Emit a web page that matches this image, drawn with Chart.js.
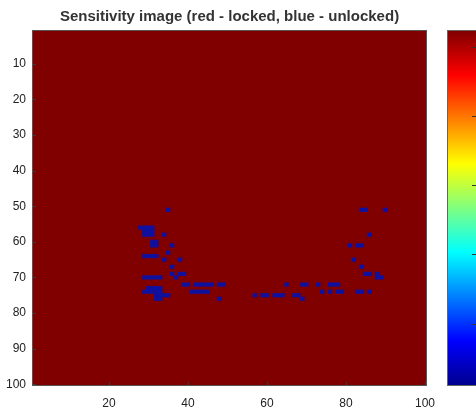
<!DOCTYPE html>
<html><head><meta charset="utf-8">
<script src="https://cdn.jsdelivr.net/npm/chart.js@4.4.1/dist/chart.umd.min.js"></script>
<style>
html,body{margin:0;padding:0;background:#fff;overflow:hidden;}
#wrap{position:relative;width:476px;height:411px;overflow:hidden;}
#c{position:absolute;left:0;top:0;}
#cbar{position:absolute;left:447px;top:30px;width:31px;height:356px;box-sizing:border-box;border:1px solid #666;
background:linear-gradient(to top,#00008f 0%,#0000ff 12.5%,#00ffff 37.5%,#ffff00 62.5%,#ff0000 87.5%,#800000 100%);}
.ct{position:absolute;right:1px;width:4px;height:1px;background:#333;}
</style></head><body>
<div id="wrap"><canvas id="c" width="476" height="411"></canvas><div id="cbar"></div></div>
<script>
const titleText = 'Sensitivity image (red - locked, blue - unlocked)';
const xTicks = [20, 40, 60, 80, 100];
const yTicks = [10, 20, 30, 40, 50, 60, 70, 80, 90, 100];
// blue (unlocked) runs: row, first column, last column
const segRow      = [51, 51, 51, 56, 57, 58, 58, 58, 60, 61, 61, 61, 61, 63, 64, 65, 65, 65, 67, 67, 69, 69, 69, 69, 70, 70, 70, 72, 72, 72, 72, 72, 72, 72, 73, 74, 74, 74, 74, 74, 74, 74, 75, 75, 75, 75, 75, 76, 76, 76];
const segColStart = [35, 84, 90, 28, 29, 29, 34, 86, 31, 31, 36, 81, 83, 35, 29, 34, 38, 82, 36, 84, 36, 38, 85, 88, 29, 37, 88, 39, 42, 48, 65, 69, 73, 76, 30, 29, 41, 74, 76, 78, 83, 86, 32, 57, 59, 62, 67, 32, 48, 69];
const segColEnd   = [35, 85, 90, 31, 31, 31, 34, 86, 32, 32, 36, 81, 84, 35, 32, 34, 38, 82, 36, 84, 36, 39, 86, 88, 33, 37, 89, 40, 46, 49, 65, 70, 73, 78, 33, 33, 45, 74, 76, 79, 84, 86, 35, 57, 60, 64, 68, 33, 48, 69];
const colorbarTickTops = [16, 85, 154, 223, 293];

const cb = document.getElementById('cbar');
colorbarTickTops.forEach(t => { const d = document.createElement('div'); d.className = 'ct'; d.style.top = t + 'px'; cb.appendChild(d); });

const framePlugin = {
  id: 'frame',
  beforeDatasetsDraw(chart) {
    const {ctx, chartArea: a} = chart;
    ctx.save();
    ctx.fillStyle = '#800000';
    ctx.fillRect(a.left, a.top, a.right - a.left, a.bottom - a.top);
    ctx.restore();
  },
  afterDatasetsDraw(chart) {
    const {ctx, chartArea: a, scales} = chart;
    ctx.save();
    ctx.strokeStyle = '#3a3a3a';
    ctx.lineWidth = 1;
    ctx.beginPath();
    yTicks.forEach(v => { const p = Math.round(scales.y.getPixelForValue(v)) + 0.5; ctx.moveTo(a.left, p); ctx.lineTo(a.left + 4, p); });
    xTicks.forEach(v => { const p = Math.round(scales.x.getPixelForValue(v)) + 0.5; ctx.moveTo(p, a.bottom); ctx.lineTo(p, a.bottom - 4); });
    ctx.stroke();
    ctx.strokeStyle = '#555';
    ctx.strokeRect(a.left + 0.5, a.top + 0.5, a.right - a.left - 1, a.bottom - a.top - 1);
    ctx.restore();
  }
};

const tickFont = {family: 'Liberation Sans', size: 12};
new Chart(document.getElementById('c'), {
  type: 'bar',
  data: {
    datasets: [{
      label: 'unlocked',
      data: segRow.map((r, i) => ({y: r, x: [segColStart[i] - 0.5, segColEnd[i] + 0.5]})),
      backgroundColor: '#10109f',
      borderWidth: 0,
      categoryPercentage: 1,
      barPercentage: 1
    }]
  },
  options: {
    indexAxis: 'y',
    responsive: false,
    animation: false,
    layout: {padding: {left: 0, right: 49, top: 0, bottom: 0}},
    plugins: {
      legend: {display: false},
      tooltip: {enabled: false},
      title: {display: true, text: titleText, fullSize: false, color: '#333',
        font: {family: 'Liberation Sans', size: 15, weight: 'bold'}, padding: {top: 8, bottom: 4}}
    },
    scales: {
      x: {type: 'linear', position: 'bottom', min: 0.5, max: 100.5, offset: false,
        grid: {display: false, drawTicks: false}, border: {display: false},
        afterBuildTicks: s => { s.ticks = xTicks.map(v => ({value: v})); },
        afterFit: s => { s.height = 25; },
        ticks: {font: tickFont, color: '#222', padding: 10, maxRotation: 0, autoSkip: false}},
      y: {type: 'linear', reverse: true, min: 0.5, max: 100.5, offset: false,
        grid: {display: false, drawTicks: false}, border: {display: false},
        afterBuildTicks: s => { s.ticks = yTicks.map(v => ({value: v})); },
        afterFit: s => { s.width = 32; },
        ticks: {font: tickFont, color: '#222', padding: 6, autoSkip: false}}
    }
  },
  plugins: [framePlugin]
});
</script>
</body></html>
